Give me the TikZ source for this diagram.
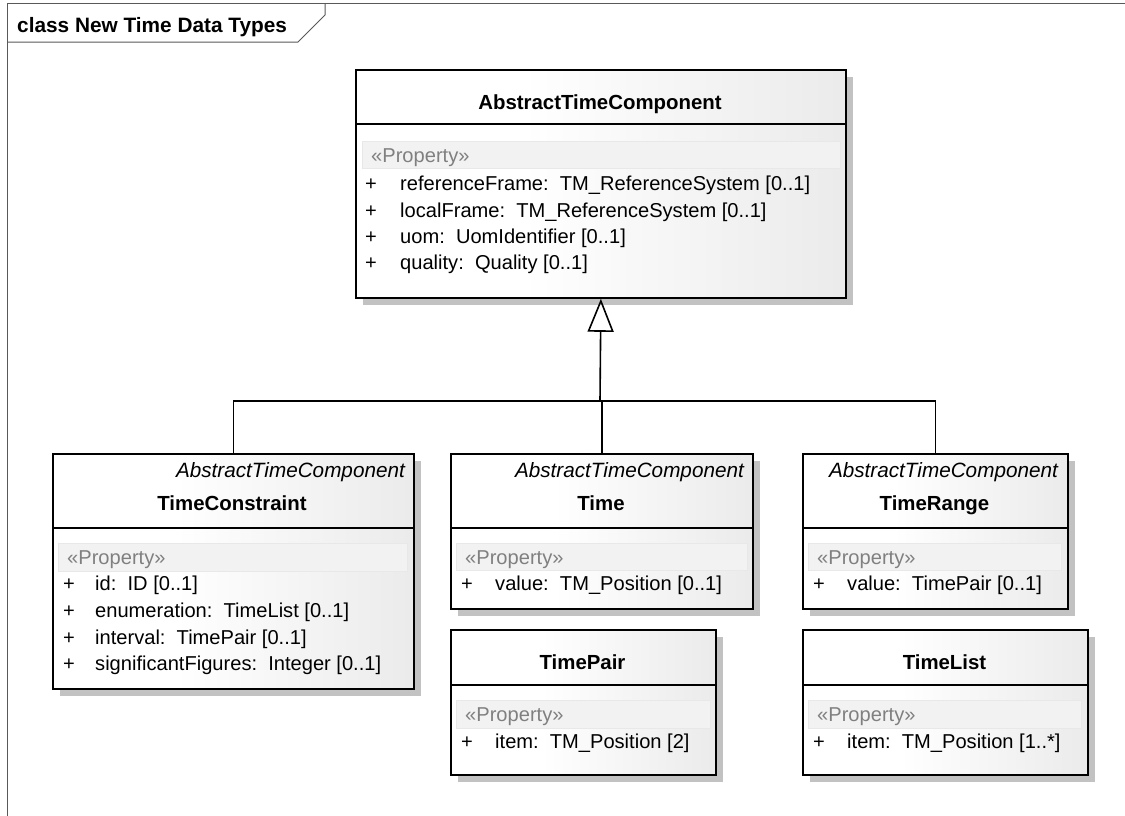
\documentclass[tikz,border=0pt]{standalone}
\usepackage{fontspec}
\setmainfont{Liberation Sans}
\usetikzlibrary{arrows.meta,shadows}
% class box fill: white on the left, fading to light grey on the right
\pgfdeclarehorizontalshading{umlfill}{100bp}{color(0bp)=(white); color(42bp)=(white); color(100bp)=(black!14)}
\begin{document}
\begin{tikzpicture}[x=1pt,y=-1pt,
  txt/.style={font=\fontsize{20.1pt}{24pt}\selectfont, inner sep=0pt},
  umlbox/.style={draw=black, line width=1.8pt, shade, shading=umlfill, inner sep=0pt,
    anchor=north west, general shadow={fill=black!24, shadow xshift=7pt, shadow yshift=-7pt}},
  sepline/.style={line width=1.4pt},
  band/.style={fill=black!5, draw=black!9, line width=0.8pt},
  stereo/.style={txt, text=black!50, anchor=base west},
  attr/.style={txt, anchor=base west},
  cname/.style={txt, font=\fontsize{20.4pt}{24pt}\selectfont\bfseries, anchor=base},
  parent/.style={txt, font=\fontsize{20.7pt}{24pt}\selectfont\itshape, anchor=base east},
  link/.style={line width=1.6pt},
  gen/.style={line width=1.6pt, -{Triangle[open, length=33pt, width=26pt, line width=1.6pt]}},
  frameline/.style={draw=black!65, line width=1pt}
]
\useasboundingbox (0,0) rectangle (1125,815);
\fill[white] (0,0) rectangle (1125,815);

% diagram frame and its name tab
\draw[frameline] (7,820) -- (7,3.5) -- (1130,3.5);
\draw[frameline] (7,42) -- (298,42) -- (325,15) -- (325,3.5);
\node[txt, font=\fontsize{20.8pt}{24pt}\selectfont\bfseries, anchor=base west] (title) at (17,32) {class New Time Data Types};

% AbstractTimeComponent
\node[umlbox, minimum width=490pt, minimum height=228pt] (atc) at (355,69) {};
\draw[sepline] (355,124) -- (845,124);
\node[cname] (atcname) at (600,109) {AbstractTimeComponent};
\draw[band] (362,141) rectangle (840,168);
\node[stereo] (atcst) at (371,162) {«Property»};
\node[attr] (atcp1) at (365,190) {+};
\node[attr] (atca1) at (400,190) {referenceFrame:\ \ TM\_ReferenceSystem [0..1]};
\node[attr] (atcp2) at (365,217) {+};
\node[attr] (atca2) at (400,217) {localFrame:\ \ TM\_ReferenceSystem [0..1]};
\node[attr] (atcp3) at (365,243) {+};
\node[attr] (atca3) at (400,243) {uom:\ \ UomIdentifier [0..1]};
\node[attr] (atcp4) at (365,269) {+};
\node[attr] (atca4) at (400,269) {quality:\ \ Quality [0..1]};

% TimeConstraint
\node[umlbox, minimum width=361pt, minimum height=235pt] (tc) at (52,453) {};
\node[parent] (tcpar) at (405,477) {AbstractTimeComponent};
\node[cname] (tcname) at (232,510) {TimeConstraint};
\draw[sepline] (52,528) -- (413,528);
\draw[band] (58,543) rectangle (407,571);
\node[stereo] (tcst) at (67,564) {«Property»};
\node[attr] (tcp1) at (63,590) {+};
\node[attr] (tca1) at (95,590) {id:\ \ ID [0..1]};
\node[attr] (tcp2) at (63,617) {+};
\node[attr] (tca2) at (95,617) {enumeration:\ \ TimeList [0..1]};
\node[attr] (tcp3) at (63,644) {+};
\node[attr] (tca3) at (95,644) {interval:\ \ TimePair [0..1]};
\node[attr] (tcp4) at (63,670) {+};
\node[attr] (tca4) at (95,670) {significantFigures:\ \ Integer [0..1]};

% Time
\node[umlbox, minimum width=302pt, minimum height=155pt] (time) at (450,453) {};
\node[parent] (timepar) at (744,477) {AbstractTimeComponent};
\node[cname] (timename) at (601,510) {Time};
\draw[sepline] (450,528) -- (752,528);
\draw[band] (456,543) rectangle (747,570);
\node[stereo] (timest) at (465,564) {«Property»};
\node[attr] (timep1) at (461,590) {+};
\node[attr] (timea1) at (495,590) {value:\ \ TM\_Position [0..1]};

% TimeRange
\node[umlbox, minimum width=265pt, minimum height=155pt] (tr) at (802,453) {};
\node[parent] (trpar) at (1058,477) {AbstractTimeComponent};
\node[cname] (trname) at (934.5,510) {TimeRange};
\draw[sepline] (802,528) -- (1067,528);
\draw[band] (808,543) rectangle (1061,570);
\node[stereo] (trst) at (817,564) {«Property»};
\node[attr] (trp1) at (813,590) {+};
\node[attr] (tra1) at (847,590) {value:\ \ TimePair [0..1]};

% TimePair
\node[umlbox, minimum width=265pt, minimum height=145pt] (tp) at (450,629) {};
\node[cname] (tpname) at (582.5,669) {TimePair};
\draw[sepline] (450,685) -- (715,685);
\draw[band] (456,700) rectangle (710,728);
\node[stereo] (tpst) at (465,721) {«Property»};
\node[attr] (tpp1) at (461,748) {+};
\node[attr] (tpa1) at (495,748) {item:\ \ TM\_Position [2]};

% TimeList
\node[umlbox, minimum width=285pt, minimum height=145pt] (tl) at (802,629) {};
\node[cname] (tlname) at (944.5,669) {TimeList};
\draw[sepline] (802,685) -- (1087,685);
\draw[band] (808,700) rectangle (1081,728);
\node[stereo] (tlst) at (817,721) {«Property»};
\node[attr] (tlp1) at (813,748) {+};
\node[attr] (tla1) at (847,748) {item:\ \ TM\_Position [1..*]};

% generalization tree
\coordinate (hub) at (600,401);
\draw[link] (tc.north) |- (hub) -| (tr.north);
\draw[link] (time.north) -- (time.north |- hub);
\draw[gen] (hub) -- (atc.south);
\end{tikzpicture}
\end{document}
